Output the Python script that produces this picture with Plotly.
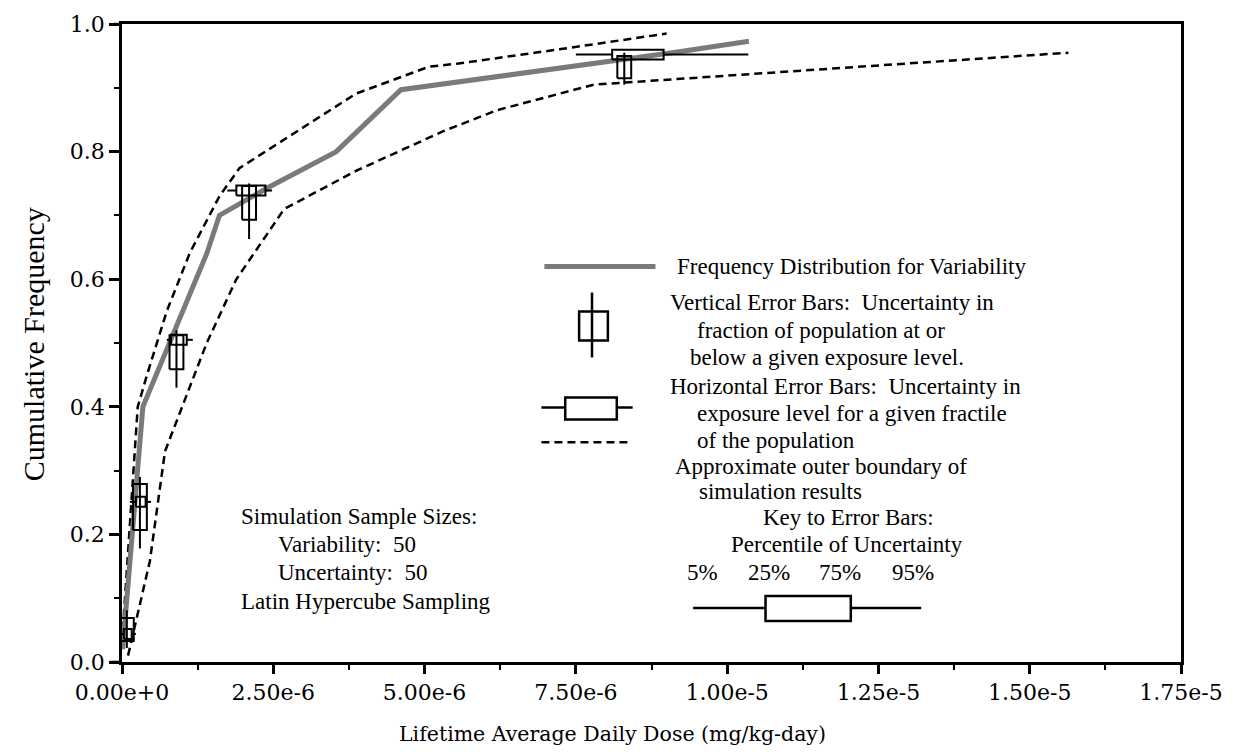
import plotly.graph_objects as go

# ---------------- data ----------------
x_ticks = [0.0, 2.5e-6, 5.0e-6, 7.5e-6, 1.0e-5, 1.25e-5, 1.5e-5, 1.75e-5]
x_ticktext = ["0.00e+0", "2.50e-6", "5.00e-6", "7.50e-6", "1.00e-5", "1.25e-5", "1.50e-5", "1.75e-5"]
y_ticks = [0.0, 0.2, 0.4, 0.6, 0.8, 1.0]
y_ticktext = ["0.0", "0.2", "0.4", "0.6", "0.8", "1.0"]

# frequency distribution for variability
var_x = [0.01e-6, 0.345e-6, 1.40e-6, 1.61e-6, 2.40e-6, 3.54e-6, 4.61e-6, 5.56e-6, 9.18e-6, 1.036e-5]
var_y = [0.02, 0.40, 0.64, 0.70, 0.743, 0.80, 0.897, 0.909, 0.956, 0.973]

# approximate outer boundaries of simulation results
upper_x = [0.0, 0.26e-6, 0.41e-6, 0.74e-6, 1.12e-6, 1.61e-6, 1.94e-6, 3.87e-6, 5.07e-6, 5.56e-6, 7.2e-6, 9.0e-6]
upper_y = [0.03, 0.40, 0.449, 0.55, 0.641, 0.73, 0.774, 0.891, 0.933, 0.938, 0.96, 0.985]
lower_x = [0.10e-6, 0.46e-6, 0.71e-6, 1.40e-6, 1.89e-6, 2.68e-6, 3.87e-6, 5.31e-6, 6.2e-6, 7.8e-6, 1.564e-5]
lower_y = [0.01, 0.158, 0.33, 0.50, 0.60, 0.71, 0.77, 0.832, 0.865, 0.905, 0.955]

# vertical error bars (uncertainty in fraction at given exposure)
vbar_x = [0.08e-6, 0.296e-6, 0.90e-6, 2.10e-6, 8.30e-6]
vbar_p05 = [0.022, 0.178, 0.430, 0.663, 0.905]
vbar_p25 = [0.033, 0.207, 0.459, 0.693, 0.915]
vbar_p75 = [0.069, 0.279, 0.512, 0.746, 0.950]
vbar_p95 = [0.081, 0.290, 0.520, 0.750, 0.955]

# horizontal error bars (uncertainty in exposure for given fractile)
hbar_y = [0.044, 0.251, 0.505, 0.739, 0.952]
hbar_p05 = [0.0, 0.13e-6, 0.74e-6, 1.74e-6, 7.5e-6]
hbar_p25 = [0.03e-6, 0.23e-6, 0.81e-6, 1.89e-6, 8.1e-6]
hbar_p75 = [0.16e-6, 0.39e-6, 1.07e-6, 2.37e-6, 8.95e-6]
hbar_p95 = [0.23e-6, 0.48e-6, 1.17e-6, 2.48e-6, 1.035e-5]

# ---------------- geometry ----------------
W, H = 1235, 755
L_PX, R_PX, T_PX, B_PX = 122, 1190, 23, 662
X_MAX = 1.75e-5
DX_PER_PX = X_MAX / (R_PX - L_PX)
DY_PER_PX = 1.0 / (B_PX - T_PX)


def px(xp):
    return (xp - L_PX) / (R_PX - L_PX)


def py(yp):
    return (B_PX - yp) / (B_PX - T_PX)


fig = go.Figure()

fig.add_trace(go.Scatter(x=upper_x, y=upper_y, mode="lines",
                         line=dict(color="black", width=2.5, dash="8px,5px"), showlegend=False))
fig.add_trace(go.Scatter(x=lower_x, y=lower_y, mode="lines",
                         line=dict(color="black", width=2.5, dash="8px,5px"), showlegend=False))
fig.add_trace(go.Scatter(x=var_x, y=var_y, mode="lines",
                         line=dict(color="#7a7a7a", width=5), showlegend=False))

# vertical error bars
hw = 7 * DX_PER_PX
vx, vy = [], []
for xc, a, b, c, d in zip(vbar_x, vbar_p05, vbar_p25, vbar_p75, vbar_p95):
    vx += [xc - hw, xc + hw, xc + hw, xc - hw, xc - hw, None, xc, xc, None]
    vy += [b, b, c, c, b, None, a, d, None]
fig.add_trace(go.Scatter(x=vx, y=vy, mode="lines", line=dict(color="black", width=2),
                         showlegend=False))

# horizontal error bars
hh = 5 * DY_PER_PX
hx, hy = [], []
for yc, a, b, c, d in zip(hbar_y, hbar_p05, hbar_p25, hbar_p75, hbar_p95):
    hx += [b, c, c, b, b, None, a, b, None, c, d, None]
    hy += [yc - hh, yc - hh, yc + hh, yc + hh, yc - hh, None, yc, yc, None, yc, yc, None]
fig.add_trace(go.Scatter(x=hx, y=hy, mode="lines", line=dict(color="black", width=2),
                         showlegend=False))

shapes = []
# small frame overhangs at the left corners
shapes.append(dict(type="line", xref="paper", yref="paper", x0=px(110), x1=px(122), y0=0, y1=0,
                   line=dict(color="black", width=2.5)))
shapes.append(dict(type="line", xref="paper", yref="paper", x0=px(114), x1=px(122), y0=1, y1=1,
                   line=dict(color="black", width=2.5)))
# legend icons (paper coordinates)
shapes.append(dict(type="line", xref="paper", yref="paper", x0=px(548), x1=px(660), y0=py(266), y1=py(266),
                   line=dict(color="#7a7a7a", width=5)))
shapes.append(dict(type="line", xref="paper", yref="paper", x0=px(596), x1=px(596), y0=py(292), y1=py(357),
                   line=dict(color="black", width=2.5)))
shapes.append(dict(type="rect", xref="paper", yref="paper", x0=px(583), x1=px(612), y0=py(311), y1=py(340),
                   line=dict(color="black", width=2.5), fillcolor="white"))
shapes.append(dict(type="line", xref="paper", yref="paper", x0=px(596), x1=px(596), y0=py(311), y1=py(340),
                   line=dict(color="black", width=2.5)))
shapes.append(dict(type="line", xref="paper", yref="paper", x0=px(545), x1=px(637), y0=py(407), y1=py(407),
                   line=dict(color="black", width=2.5)))
shapes.append(dict(type="rect", xref="paper", yref="paper", x0=px(569), x1=px(621), y0=py(397), y1=py(419),
                   line=dict(color="black", width=2.5), fillcolor="white"))
shapes.append(dict(type="line", xref="paper", yref="paper", x0=px(545), x1=px(635), y0=py(442), y1=py(442),
                   line=dict(color="black", width=2.5, dash="8px,5px")))
# key icon
shapes.append(dict(type="line", xref="paper", yref="paper", x0=px(698), x1=px(928), y0=py(608), y1=py(608),
                   line=dict(color="black", width=2.5)))
shapes.append(dict(type="rect", xref="paper", yref="paper", x0=px(771), x1=px(857), y0=py(596), y1=py(621),
                   line=dict(color="black", width=2.5), fillcolor="white"))

FONT = dict(family="Liberation Serif, Times New Roman, serif", size=23, color="black")
ann = []


def text(t, x, y, anchor="left"):
    ann.append(dict(text=t, x=px(x), y=py(y), xref="paper", yref="paper", xanchor=anchor,
                    yanchor="middle", showarrow=False, font=FONT))


text("Frequency Distribution for Variability", 680, 266)
text("Vertical Error Bars:  Uncertainty in", 673, 302)
text("fraction of population at or", 700, 330)
text("below a given exposure level.", 693, 357)
text("Horizontal Error Bars:  Uncertainty in", 673, 386)
text("exposure level for a given fractile", 700, 413)
text("of the population", 700, 440)
text("Approximate outer boundary of", 678, 466)
text("simulation results", 702, 491)

text("Simulation Sample Sizes:", 240, 516)
text("Variability:  50", 277, 544)
text("Uncertainty:  50", 277, 572)
text("Latin Hypercube Sampling", 240, 601)

text("Key to Error Bars:", 855, 517, "center")
text("Percentile of Uncertainty", 853, 544, "center")
text("5%", 707, 572, "center")
text("25%", 774, 572, "center")
text("75%", 846, 572, "center")
text("95%", 920, 572, "center")

ann.append(dict(text="Lifetime Average Daily Dose (mg/kg-day)", x=px(617), y=py(734), xref="paper", yref="paper",
                xanchor="center", yanchor="middle", showarrow=False,
                font=dict(family="DejaVu Serif, serif", size=20.5, color="black")))
ann.append(dict(text="Cumulative Frequency", x=px(33), y=py(344), xref="paper", yref="paper",
                xanchor="center", yanchor="middle", showarrow=False, textangle=-90,
                font=dict(family="Liberation Serif, Times New Roman, serif", size=30, color="black")))

TICKFONT = dict(family="DejaVu Serif, serif", size=22, color="black")

fig.update_layout(
    width=W, height=H, autosize=False,
    margin=dict(l=L_PX, r=W - R_PX, t=T_PX, b=H - B_PX, pad=0),
    paper_bgcolor="white", plot_bgcolor="white",
    shapes=shapes, annotations=ann,
    xaxis=dict(range=[0, X_MAX], tickvals=x_ticks, ticktext=x_ticktext, showgrid=False, zeroline=False,
               showline=True, linecolor="black", linewidth=2.5, mirror=True,
               ticks="outside", ticklen=9, tickwidth=2.5, tickcolor="black", tickfont=TICKFONT,
               minor=dict(dtick=1.25e-6, tick0=0, ticks="outside", ticklen=5, tickwidth=2, tickcolor="black")),
    yaxis=dict(range=[0, 1.0], tickvals=y_ticks, ticktext=y_ticktext, showgrid=False, zeroline=False,
               showline=True, linecolor="black", linewidth=2.5, mirror=True,
               ticks="outside", ticklen=10, tickwidth=2.5, tickcolor="black", tickfont=TICKFONT,
               minor=dict(dtick=0.1, tick0=0, ticks="outside", ticklen=5, tickwidth=2, tickcolor="black")),
    showlegend=False,
)

fig.write_html("out.html", config={"displayModeBar": False},
               post_script="document.body.style.margin='0';")
